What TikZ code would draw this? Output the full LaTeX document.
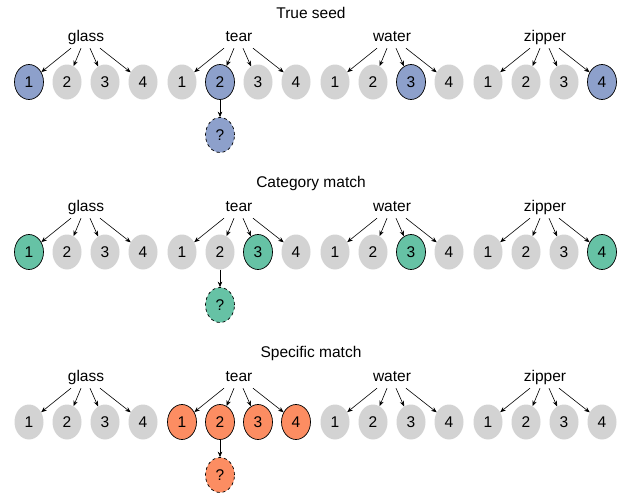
\documentclass[tikz,border=0pt]{standalone}
\usepackage{fontspec}
\setmainfont{Liberation Sans}
\usetikzlibrary{shapes.geometric,arrows.meta}

\definecolor{optgray}{HTML}{D3D3D3}
\definecolor{seedblue}{HTML}{8DA0CB}
\definecolor{catgreen}{HTML}{66C2A5}
\definecolor{specorange}{HTML}{FC8D62}

\tikzset{
  word/.style={inner xsep=0pt, inner ysep=4pt, text height=11pt, text depth=3pt},
  opt/.style={ellipse, fill=optgray, minimum width=29pt, minimum height=35pt, inner sep=0pt},
  pick/.style={opt, fill=#1, draw=black, line width=0.7pt},
  guess/.style={pick=#1, dashed},
  arr/.style={-{Stealth[length=5.5pt,width=4.5pt]}, line width=0.6pt}
}

% one word with its four meanings: name, x, row y, word, four styles
\newcommand{\wordset}[8]{
  \node[word] (#1) at (#2+57,#3+37) {#4};
  \node[#5] (#1-1) at (#2,#3+82) {1};
  \node[#6] (#1-2) at (#2+38,#3+82) {2};
  \node[#7] (#1-3) at (#2+76,#3+82) {3};
  \node[#8] (#1-4) at (#2+114,#3+82) {4};
  \draw[arr] ([xshift=-15pt]#1.south) -- (#1-1);
  \draw[arr] ([xshift=-5pt]#1.south) -- (#1-2);
  \draw[arr] ([xshift=4pt]#1.south) -- (#1-3);
  \draw[arr] ([xshift=14pt]#1.south) -- (#1-4);
}

\begin{document}
\begin{tikzpicture}[x=1pt,y=-1pt,font=\fontsize{15.5}{18}\selectfont]
  \useasboundingbox (0,0) rectangle (621,493);

  % true seed
  \node (ta) at (311,13) {True seed};
  \wordset{ag}{29}{0}{glass}{pick=seedblue}{opt}{opt}{opt}
  \wordset{at}{182}{0}{tear}{opt}{pick=seedblue}{opt}{opt}
  \wordset{aw}{335}{0}{water}{opt}{opt}{pick=seedblue}{opt}
  \wordset{az}{488}{0}{zipper}{opt}{opt}{opt}{pick=seedblue}
  \node[guess=seedblue] (aq) at (220,135) {?};
  \draw[arr] (at-2) -- (aq);

  % category match
  \node (tb) at (311,183) {Category match};
  \wordset{bg}{29}{170}{glass}{pick=catgreen}{opt}{opt}{opt}
  \wordset{bt}{182}{170}{tear}{opt}{opt}{pick=catgreen}{opt}
  \wordset{bw}{335}{170}{water}{opt}{opt}{pick=catgreen}{opt}
  \wordset{bz}{488}{170}{zipper}{opt}{opt}{opt}{pick=catgreen}
  \node[guess=catgreen] (bq) at (220,305) {?};
  \draw[arr] (bt-2) -- (bq);

  % specific match
  \node (tc) at (311,353) {Specific match};
  \wordset{cg}{29}{340}{glass}{opt}{opt}{opt}{opt}
  \wordset{ct}{182}{340}{tear}{pick=specorange}{pick=specorange}{pick=specorange}{pick=specorange}
  \wordset{cw}{335}{340}{water}{opt}{opt}{opt}{opt}
  \wordset{cz}{488}{340}{zipper}{opt}{opt}{opt}{opt}
  \node[guess=specorange] (cq) at (220,475) {?};
  \draw[arr] (ct-2) -- (cq);
\end{tikzpicture}
\end{document}
